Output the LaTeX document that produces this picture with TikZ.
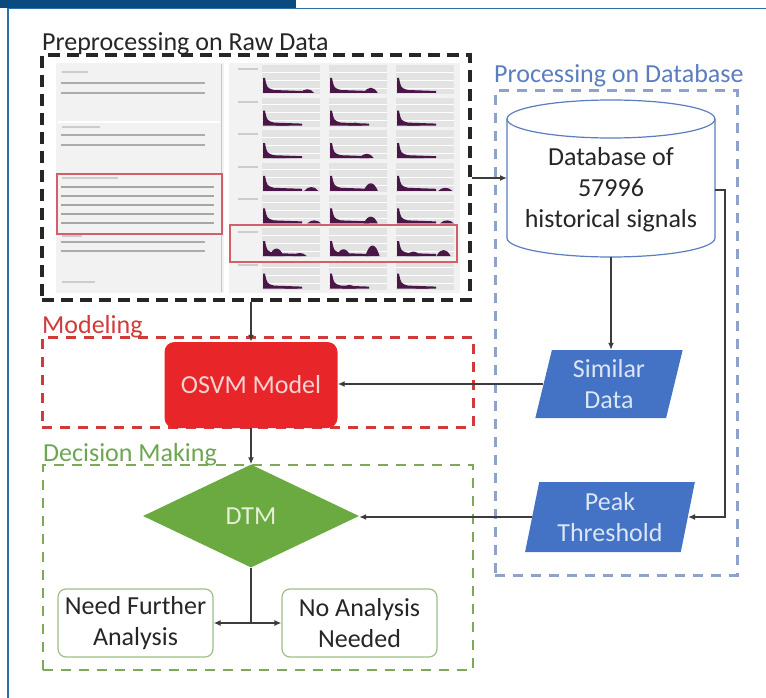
\documentclass[tikz,border=0pt]{standalone}
\usepackage{fontspec}
\setmainfont{Carlito}
\usepackage{xcolor}
\usepackage{tikz}
\usetikzlibrary{calc}
\usetikzlibrary{arrows.meta}
\usetikzlibrary{shapes.geometric}

\definecolor{hdrblue}{HTML}{0B4A7E}
\definecolor{frameblue}{HTML}{2F6EA5}
\definecolor{modred}{HTML}{D23A3A}
\definecolor{osvmred}{HTML}{E8262A}
\definecolor{osvmtext}{HTML}{FAD2D2}
\definecolor{grpgreen}{HTML}{7FA85A}
\definecolor{titlegreen}{HTML}{6DA650}
\definecolor{dtmgreen}{HTML}{6BAA40}
\definecolor{dtmtext}{HTML}{E4F0D8}
\definecolor{grpblue}{HTML}{8FA3CA}
\definecolor{titleblue}{HTML}{5A7DC0}
\definecolor{parblue}{HTML}{4472C4}
\definecolor{partext}{HTML}{DCE6F6}
\definecolor{outgreen}{HTML}{9CBF86}
\definecolor{darktext}{HTML}{262626}
\definecolor{linegray}{HTML}{3C3C3C}
\definecolor{peakpurple}{HTML}{4A1648}
\definecolor{shotred}{HTML}{D2606A}

\def\boxfont{\fontsize{26}{31}\selectfont}

\tikzset{
	grpbox/.style={draw=#1, line width=3pt, dash pattern=on 10pt off 8pt, inner sep=0pt},
	grptitle/.style={anchor=base west, inner sep=0pt, text=#1, font=\boxfont},
	conn/.style={draw=linegray, line width=2pt, -{Latex[length=7pt,width=6pt]}},
	link/.style={draw=linegray, line width=2pt},
	inbox/.style={trapezium, trapezium left angle=78, trapezium right angle=102,
		trapezium stretches=true, fill=parblue, text=partext, align=center,
		font=\boxfont, inner sep=0pt},
	outbox/.style={draw=outgreen, line width=1.2pt, rounded corners=8pt,
		minimum width=155pt, minimum height=68pt, align=center, text=darktext,
		font=\boxfont},
}

\begin{document}
\begin{tikzpicture}[x=1pt,y=-1pt]
	\useasboundingbox (0,0) rectangle (766,698);
	% header bar and frame
	\fill[hdrblue] (0,0) rectangle (296,8);
	\draw[frameblue, line width=1.5pt] (8,698) -- (8,8.5) -- (766,8.5);

	% screenshot of the raw data
	\fill[gray!10] (56,63) rectangle (460,293);
	\fill[white] (224,63) rectangle (229,293);
	\draw[gray!45, line width=1pt] (221,64) -- (221,292);
	\draw[white, line width=1.5pt] (58,122) -- (220,122);
	\foreach \y/\l in {72/88,127/100,178/118,236/82,282/95}
		\draw[gray!40, line width=2pt] (62,\y) -- (\l,\y);
	\foreach \y in {83,93,135,145,242,251}
		\draw[gray!65, line width=2.5pt] (61,\y) -- (205,\y);
	\foreach \y in {187,196,205,214,223}
		\draw[gray!70, line width=2.5pt] (61,\y) -- (214,\y);
	\draw[shotred, line width=1.5pt] (57,174) rectangle (222,234);
	\foreach \r [evaluate=\r as \yb using \r*32.6+93] in {0,...,6}{
		\draw[gray!40, line width=2pt] (238,\yb-24) -- (258,\yb-24);
		\foreach \x in {262,329,396}{
			\fill[gray!22] (\x,\yb-28) rectangle ++(58,29);
			\foreach \k in {7,15,23}
				\draw[white, line width=0.8pt] (\x,\yb-28+\k) -- ++(58,0);
			\fill[peakpurple] (\x+1,\yb) -- ++(0,-15) -- ++(2,0)
				.. controls ++(2,10) .. ++(9,12) -- ++(28,1) -- ++(0,2) -- cycle;
		}
	}
	\foreach \r/\c/\p/\h in {0/0/.78/5,0/1/.72/7,0/2/.38/3,1/0/.35/2,1/1/.45/4,1/2/.3/2,
		2/0/.3/2,2/1/.65/6,2/2/.35/2,3/0/.85/5,3/1/.72/10,3/2/.85/4,3/1/.3/3,
		4/0/.9/4,4/1/.72/9,4/2/.88/4,5/0/.25/10,5/0/.65/4,5/1/.25/9,5/1/.75/14,
		5/2/.3/6,5/2/.82/8,6/0/.5/2,6/1/.35/5,6/2/.45/2}
		\fill[peakpurple] (262+67*\c+58*\p-7,\r*32.6+93)
			.. controls ++(4,-\h) and ++(-4,-\h) .. ++(14,0) -- cycle;
	\draw[shotred, line width=1.5pt] (230,225) rectangle (457,262);

	% group boxes
	\node[grpbox=black!85, line width=3.5pt, dash pattern=on 12pt off 7pt,
		minimum width=428pt, minimum height=245pt] (prep) at (256,177.5) {};
	\node[grpbox=grpblue, minimum width=242pt, minimum height=484pt] (dbgrp) at (616,333) {};
	\node[grpbox=modred, minimum width=431pt, minimum height=90pt] (modgrp) at (257.5,382) {};
	\node[grpbox=grpgreen, line width=2.5pt, minimum width=430pt, minimum height=205pt] (decgrp) at (258,567.5) {};
	\node[grptitle=black!85] (preptxt) at (42,51) {Preprocessing on Raw Data};
	\node[grptitle=titleblue] (dbtxt) at (494,83) {Processing on Database};
	\node[grptitle=modred] (modtxt) at (42,333) {Modeling};
	\node[grptitle=titlegreen] (dectxt) at (43,461) {Decision Making};

	% database cylinder
	\fill[white] (507,119) rectangle (715,238);
	\draw[titleblue, line width=1.2pt] (507,119) -- (507,238)
		arc[start angle=180, end angle=0, x radius=104, y radius=19] -- (715,119);
	\draw[titleblue, line width=1.2pt] (611,119) ellipse [x radius=104, y radius=19];
	\node[align=center, text=darktext, font=\boxfont] (db) at (611,190)
		{Database of\\57996\\historical signals};
	\coordinate (dbin) at (507,178);
	\coordinate (dbbot) at (611,257);
	\coordinate (dbright) at (715,190);

	% nodes
	\node[inbox, minimum width=148pt, minimum height=68pt] (sim) at (609,384) {Similar\\Data};
	\node[inbox, minimum width=170pt, minimum height=70pt] (peak) at (610,517) {Peak\\Threshold};
	\node[fill=osvmred, rounded corners=10pt, minimum width=173pt, minimum height=86pt,
		text=osvmtext, font=\boxfont] (osvm) at (251,385) {OSVM Model};
	\node[diamond, fill=dtmgreen, minimum width=216pt, minimum height=103pt, inner sep=0pt,
		text=dtmtext, font=\boxfont] (dtm) at (251,516) {DTM};
	\node[outbox] (need) at (135.5,623) {Need Further\\Analysis};
	\node[outbox] (noneed) at (359.5,623) {No Analysis\\Needed};
	\coordinate (split) at (251,623);

	% connectors
	\draw[conn] (prep.east |- dbin) -- (dbin);
	\draw[conn] (dbbot) -- (dbbot |- sim.north);
	\draw[conn] (dbright) -- ++(10,0) |- (peak.east);
	\draw[conn] (osvm.north |- prep.south) -- (osvm.north);
	\draw[conn] (sim.west) -- (sim.west -| osvm.east);
	\draw[conn] (osvm.south) -- (dtm.north);
	\draw[conn] (peak.west) -- (peak.west -| dtm.east);
	\draw[link] (dtm.south) -- (split);
	\draw[conn] (split) -- (need.east);
	\draw[conn] (split) -- (noneed.west);
\end{tikzpicture}
\end{document}
